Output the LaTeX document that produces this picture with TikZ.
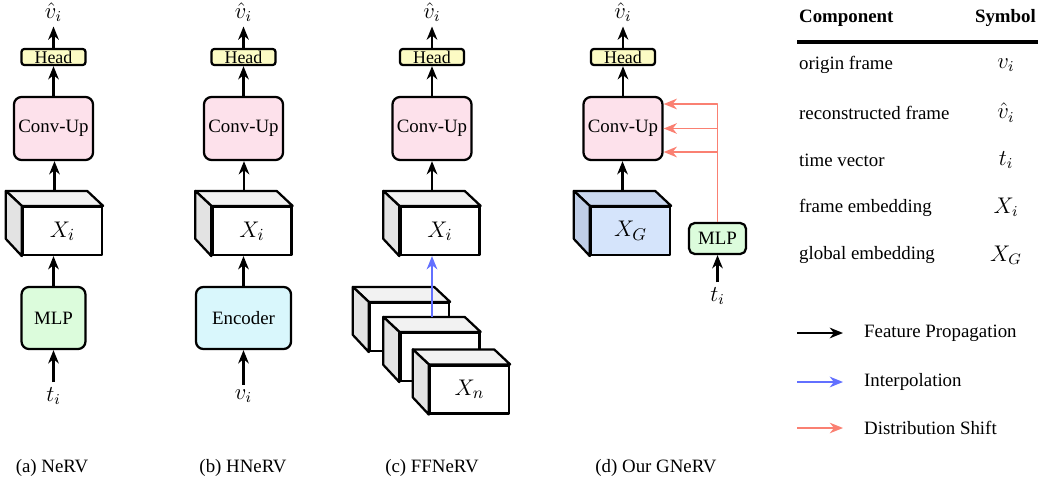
\documentclass[tikz,border=0pt]{standalone}
\usepackage{amsmath}
\usepackage{fontspec}
\setmainfont{Liberation Serif}
\usepackage{xcolor}
\usepackage{tikz}
\usetikzlibrary{calc,arrows.meta}

\definecolor{convpink}{HTML}{FDE1EB}
\definecolor{headyellow}{HTML}{FCFBC4}
\definecolor{mlpgreen}{HTML}{DCFCDC}
\definecolor{enccyan}{HTML}{D9F7FC}
\definecolor{cubetop}{HTML}{F2F2F2}
\definecolor{cubeside}{HTML}{E3E3E3}
\definecolor{gfront}{HTML}{D5E4FB}
\definecolor{gtop}{HTML}{CAD8F0}
\definecolor{gside}{HTML}{BFCDE6}
\definecolor{interpblue}{HTML}{6270FF}
\definecolor{salmon}{HTML}{FA8072}

\newcommand{\drawCube}[7]{% name; front centre: x,y; label; front, top, side fill
  \node[cubeface,fill=#5] (#1) at (#2,#3) {#4};
  \draw[fill=#6] (#1.north west) -- ++(-16,-15) -- ($(#1.north east)+(-16,-15)$) -- (#1.north east) -- cycle;
  \draw[fill=#7] (#1.north west) -- ++(-16,-15) -- ++(0,48) -- (#1.south west) -- cycle;
  \coordinate (#1-top) at ($(#1.north)+(-8,-15)$);
}
\newcommand{\drawDecoder}[2]{% name suffix, centre x
  \node[conv] (conv#1) at (#2,128.5) {Conv-Up};
  \node[head] (head#1) at (#2,57) {Head};
  \node[sym] (out#1) at (#2,12) {$\hat{v}_i$};
  \draw[->] (conv#1.north) -- (head#1.south);
  \draw[->] (head#1.north) -- (out#1.south);
}

\begin{document}
\begin{tikzpicture}[x=0.53pt,y=-0.53pt,line width=1.2pt,line join=round,
  >={Stealth[length=7pt,width=5.6pt,inset=2.2pt]},
  block/.style={draw,rounded corners=4pt,align=center,inner sep=0pt},
  conv/.style={block,fill=convpink,minimum width=41.9pt,minimum height=33.4pt},
  head/.style={draw,rounded corners=1.5pt,fill=headyellow,minimum width=33.9pt,
    minimum height=8.5pt,inner sep=0pt,font=\fontsize{9.5}{10}\selectfont},
  mlp/.style={block,fill=mlpgreen,minimum width=33.9pt,minimum height=32.9pt},
  mlpsmall/.style={block,rounded corners=3pt,fill=mlpgreen,minimum width=30.2pt,minimum height=16.4pt},
  encoder/.style={block,fill=enccyan,minimum width=50.4pt,minimum height=32.9pt},
  cubeface/.style={draw,minimum width=41.9pt,minimum height=25.4pt,inner sep=0pt,
    font=\fontsize{13}{15}\selectfont},
  sym/.style={font=\large,inner sep=2pt},
  interp/.style={->,draw=interpblue},
  shiftarrow/.style={->,draw=salmon,line width=0.9pt}]
\useasboundingbox (0,0) rectangle (1039,489);

% (a) NeRV
\drawDecoder{a}{53.5}
\drawCube{xa}{62.5}{231}{$X_i$}{white}{cubetop}{cubeside}
\node[mlp] (mlpa) at (53.5,318) {MLP};
\node[sym] (ta) at (53.5,396) {$t_i$};
\draw[->] (ta.north) -- (mlpa.south);
\draw[->] (mlpa.north) -- (mlpa.north |- xa.south);
\draw[->] (xa-top) -- (xa-top |- conva.south);

% (b) HNeRV
\drawDecoder{b}{243.5}
\drawCube{xb}{252}{231}{$X_i$}{white}{cubetop}{cubeside}
\node[encoder] (encb) at (243.5,318) {Encoder};
\node[sym] (vb) at (243.5,396) {$v_i$};
\draw[->] (vb.north) -- (encb.south);
\draw[->] (encb.north) -- (encb.north |- xb.south);
\draw[->] (xb-top) -- (xb-top |- convb.south);

% (c) FFNeRV
\drawDecoder{c}{432}
\drawCube{xc}{440}{231}{$X_i$}{white}{cubetop}{cubeside}
\draw[->] (xc-top) -- (xc-top |- convc.south);
% stacked frame embeddings
\drawCube{xc1}{409.5}{327}{}{white}{cubetop}{cubeside}
\drawCube{xc2}{440}{357}{}{white}{cubetop}{cubeside}
\drawCube{xc3}{469.5}{389.5}{$X_n$}{white}{cubetop}{cubeside}
\draw[interp] (xc2-top) -- (xc2-top |- xc.south);

% (d) Our GNeRV
\drawDecoder{d}{623}
\drawCube{xg}{630.5}{231}{$X_G$}{gfront}{gtop}{gside}
\draw[->] (xg-top) -- (xg-top |- convd.south);
\node[mlpsmall] (mlpd) at (717.5,238.5) {MLP};
\node[sym] (td) at (717.5,296) {$t_i$};
\draw[->] (td.north) -- (mlpd.south);
% time-conditioned shifts into the decoder
\coordinate (inA) at ($(convd.east)+(0,-24.5)$);
\coordinate (inB) at (convd.east);
\coordinate (inC) at ($(convd.east)+(0,23.5)$);
\draw[shiftarrow] (mlpd.north) |- (inA);
\draw[shiftarrow] (mlpd.north |- inB) -- (inB);
\draw[shiftarrow] (mlpd.north |- inC) -- (inC);

% Captions
\node (capa) at (52,468) {(a) NeRV};
\node (capb) at (243,468) {(b) HNeRV};
\node (capc) at (432,468) {(c) FFNeRV};
\node (capd) at (656,468) {(d) Our GNeRV};

% Symbol table
\node[anchor=west,font=\bfseries,inner sep=0pt] (comphead) at (798,18) {Component};
\node[anchor=east,font=\bfseries,inner sep=0pt] (symhead) at (1037,18) {Symbol};
\draw[line width=1.6pt] (797,42) -- (1038,42);
\foreach \txt/\sym [count=\k] in {origin frame/v_i,reconstructed frame/\hat{v}_i,
    time vector/t_i,frame embedding/X_i,global embedding/X_G}{
  \node[anchor=west,inner sep=0pt] (comp\k) at (798,17.5+47.5*\k) {\txt};
  \node[font=\large] (sym\k) at (1006,17.5+47.5*\k) {$\sym$};
}

% Legend
\foreach \y/\kind/\txt [count=\k] in {333/->/Feature Propagation,382/interp/Interpolation,
    428/shiftarrow/Distribution Shift}{
  \coordinate (ls\k) at (797,\y);
  \coordinate (le\k) at (843,\y);
  \draw[\kind] (ls\k) -- (le\k);
  \node[anchor=west,inner sep=0pt] (lt\k) at (863,\y) {\txt};
}

\end{tikzpicture}
\end{document}
